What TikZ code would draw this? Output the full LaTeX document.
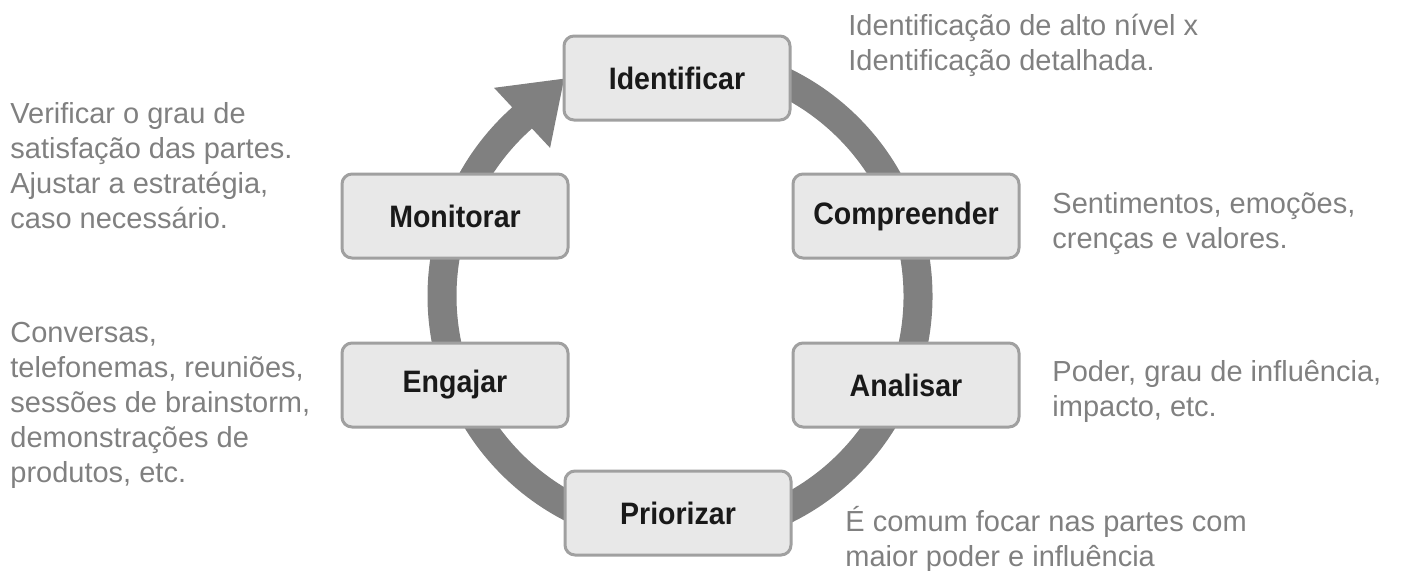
\documentclass[tikz,border=0pt]{standalone}
\usepackage{fontspec}
\setmainfont{Liberation Sans}
\newfontfamily\boxfont{Liberation Sans}[FakeStretch=0.92]
\usetikzlibrary{arrows.meta}
\definecolor{ringgray}{HTML}{808080}
\definecolor{boxfill}{HTML}{E8E8E8}
\definecolor{boxline}{HTML}{A0A0A0}
\definecolor{notegray}{HTML}{808080}
\tikzset{mybox/.style={draw=boxline,fill=boxfill,line width=1.5pt,rounded corners=5pt,minimum width=113pt,minimum height=42pt,text=black!90,font=\boxfont\bfseries\fontsize{15.5}{18}\selectfont}}
\tikzset{mynote/.style={anchor=north west,inner sep=0pt,align=left,text=notegray,font=\fontsize{14.5}{17.5}\selectfont}}
\tikzset{myring/.style={draw=ringgray,line width=14.5pt,-{Triangle[length=29pt,width=39pt]}}}

\begin{document}
\begin{tikzpicture}[x=0.5pt,y=-0.5pt]
	\useasboundingbox (0,0) rectangle (1407,570);

	\coordinate (ctr) at (680,296);
	\draw[myring] ([shift={(95:119pt)}]ctr) arc[start angle=95,end angle=-227,radius=119pt] -- ++(43:32pt); % cycle arrow

	\node[mybox] (identificar) at (677,78) {Identificar};
	\node[mybox] (compreender) at (906,216) {Compreender};
	\node[mybox] (analisar) at (906,385) {Analisar};
	\node[mybox] (priorizar) at (678,513) {Priorizar};
	\node[mybox] (engajar) at (455,385) {Engajar};
	\node[mybox] (monitorar) at (455,216) {Monitorar};

	\node[mynote] (noteidentificar) at (848,14) {Identificação de alto nível x\\Identificação detalhada.};
	\node[mynote] (notecompreender) at (1052,192) {Sentimentos, emoções,\\crenças e valores.};
	\node[mynote] (noteanalisar) at (1052,360) {Poder, grau de influência,\\impacto, etc.};
	\node[mynote] (notepriorizar) at (845,506) {É comum focar nas partes com\\maior poder e influência};
	\node[mynote] (noteengajar) at (10,322) {Conversas,\\telefonemas, reuniões,\\sessões de brainstorm,\\demonstrações de\\produtos, etc.};
	\node[mynote] (notemonitorar) at (10,102) {Verificar o grau de\\satisfação das partes.\\Ajustar a estratégia,\\caso necessário.};
\end{tikzpicture}
\end{document}
